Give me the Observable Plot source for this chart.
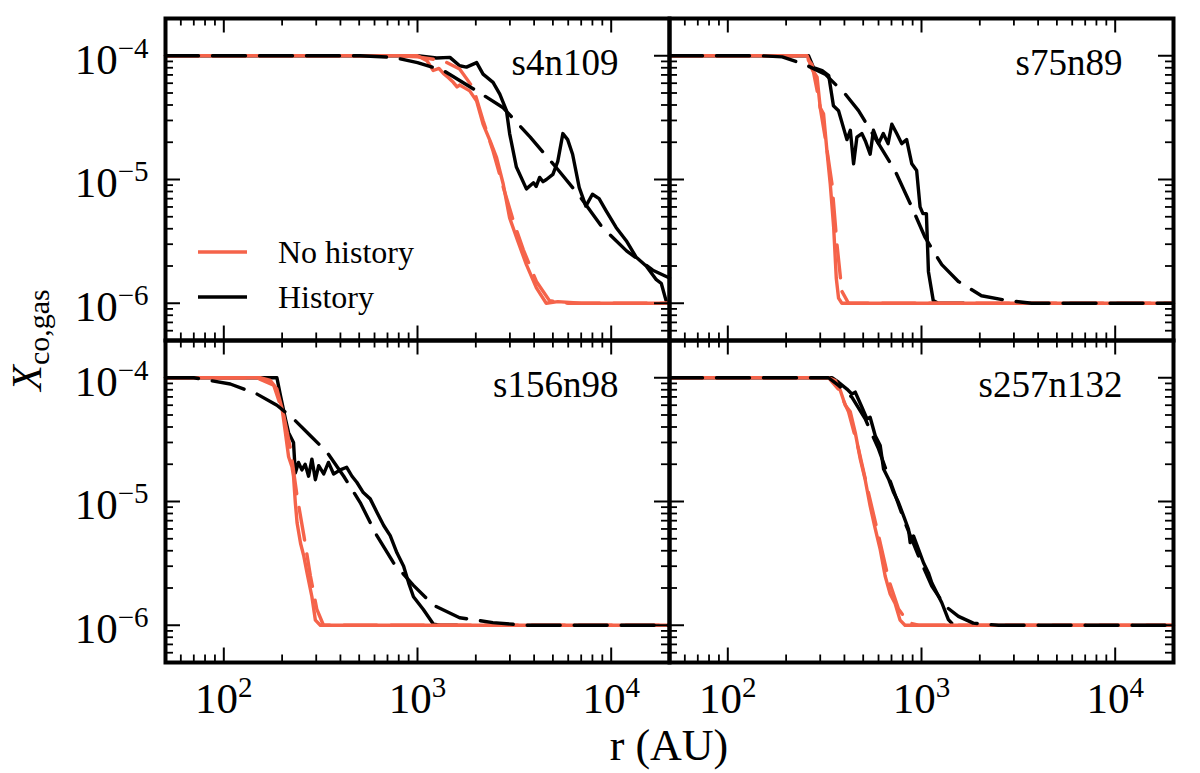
<!DOCTYPE html>
<html>
<head>
<meta charset="utf-8">
<script src="https://cdn.jsdelivr.net/npm/d3@7"></script>
<script src="https://cdn.jsdelivr.net/npm/@observablehq/plot@0.6"></script>
<style>
  body { margin: 0; background: white; }
  #chart svg { display: block; }
</style>
</head>
<body>
<div id="chart"></div>
<script>
// X_co,gas vs r for four cores; solid = simulation, dashed = model
const panels = ["s4n109", "s75n89", "s156n98", "s257n132"];
const kinds = ["history", "noHistory", "noHistoryModel", "historyModel"];
const legendLabels = ["No history", "History"];
const xMajor = [100, 1000, 10000];
const xMinor = [60, 70, 80, 90, 200, 300, 400, 500, 600, 700, 800, 900,
  2000, 3000, 4000, 5000, 6000, 7000, 8000, 9000];
const yMajor = [1e-6, 1e-5, 1e-4];
const yMinor = [6e-7, 7e-7, 8e-7, 9e-7, 2e-6, 3e-6, 4e-6, 5e-6, 6e-6, 7e-6, 8e-6, 9e-6,
  2e-5, 3e-5, 4e-5, 5e-5, 6e-5, 7e-5, 8e-5, 9e-5];

// s4n109  [r (AU), X]
const s4n109_noHistory = [[50,1e-4],[1000,1e-4],[1120,9.1e-5],[1206,7.6e-5],[1290,7.9e-5],[1360,7.2e-5],[1450,6.6e-5],[1530,6.1e-5],[1600,5.6e-5],[1650,5.8e-5],[1750,5.5e-5],[1860,5.2e-5],[2020,4.3e-5],[2180,2.8e-5],[2370,2.05e-5],[2560,1.5e-5],[2770,9.2e-6],[2990,4.9e-6],[3290,3.2e-6],[3650,2.05e-6],[4110,1.33e-6],[4620,1e-6],[5300,1.03e-6],[7000,1e-6],[20000,1e-6]];
const s4n109_noHistoryModel = [[50,1e-4],[750,1e-4],[1000,9.8e-5],[1360,9.1e-5],[1650,7.8e-5],[1940,5.5e-5],[2180,3.0e-5],[2455,1.7e-5],[2770,8.7e-6],[3130,4.6e-6],[3520,2.7e-6],[4110,1.5e-6],[4800,1.05e-6],[6000,1e-6],[20000,1e-6]];
const s4n109_history = [[50,1e-4],[1000,1e-4],[1255,9.6e-5],[1470,9.7e-5],[1650,8.3e-5],[1790,8.1e-5],[2020,8.8e-5],[2180,7.1e-5],[2455,6.1e-5],[2660,4.9e-5],[2880,3.6e-5],[2990,2.35e-5],[3240,1.26e-5],[3650,8.4e-6],[3970,9.4e-6],[4100,8.8e-6],[4270,1.04e-5],[4450,9.6e-6],[4630,1.0e-5],[5000,1.1e-5],[5300,1.4e-5],[5630,2.35e-5],[5960,2.1e-5],[6320,1.6e-5],[6840,8.6e-6],[7400,6.1e-6],[8000,7.6e-6],[8660,7e-6],[9400,5.6e-6],[10600,4.1e-6],[11960,3.2e-6],[13470,2.35e-6],[15160,2e-6],[17100,1.55e-6],[18130,1.45e-6],[19200,1.05e-6]];
const s4n109_historyModel = [[50,1e-4],[505,1e-4],[750,9.7e-5],[1000,8.8e-5],[1360,7.6e-5],[2020,5.2e-5],[2770,3.8e-5],[3820,2.2e-5],[5200,1.25e-5],[6840,7.4e-6],[9000,4.1e-6],[12000,2.65e-6],[16400,1.85e-6],[20000,1.6e-6]];

// s75n89
const s75n89_noHistory = [[50,1e-4],[257,1e-4],[272,7.8e-5],[289,6.7e-5],[300,3.8e-5],[312,3.4e-5],[325,1.7e-5],[338,9.2e-6],[352,4.1e-6],[363,1.6e-6],[373,1.1e-6],[388,1e-6],[20000,1e-6]];
const s75n89_noHistoryModel = [[50,1e-4],[250,1e-4],[272,8.5e-5],[294,4.6e-5],[318,2.2e-5],[345,9.2e-6],[366,3e-6],[388,1.25e-6],[420,1e-6],[20000,1e-6]];
const s75n89_history = [[50,1e-4],[261,1e-4],[277,8e-5],[307,7.6e-5],[332,6.9e-5],[351,3.95e-5],[373,3.6e-5],[396,2.6e-5],[412,2.1e-5],[429,2.5e-5],[446,1.34e-5],[464,2.2e-5],[492,2.35e-5],[513,2.05e-5],[543,1.6e-5],[565,2.5e-5],[600,1.95e-5],[635,2.35e-5],[672,1.95e-5],[703,2.8e-5],[745,2.35e-5],[790,1.95e-5],[838,2.1e-5],[891,1.34e-5],[944,1.18e-5],[983,6e-6],[1017,5.3e-6],[1060,5.3e-6],[1086,1.8e-6],[1150,1.05e-6],[1220,1e-6],[1650,1e-6]];
const s75n89_historyModel = [[50,1e-4],[150,1e-4],[191,9.8e-5],[250,8.5e-5],[318,7.1e-5],[404,4.9e-5],[473,3.6e-5],[600,1.95e-5],[730,1.18e-5],[891,6e-6],[1044,3.4e-6],[1273,2.05e-6],[1550,1.5e-6],[2040,1.15e-6],[2800,1.05e-6],[3700,1e-6],[20000,1e-6]];

// s156n98
const s156n98_noHistory = [[50,1e-4],[154,1e-4],[174,9.5e-5],[188,8.1e-5],[200,5.6e-5],[208,3.6e-5],[216,2.3e-5],[225,1.9e-5],[229,1.6e-5],[234,9.8e-6],[239,6.7e-6],[249,4.6e-6],[259,3.6e-6],[269,2.65e-6],[285,1.7e-6],[297,1.1e-6],[315,1e-6],[20000,1e-6]];
const s156n98_noHistoryModel = [[50,1e-4],[148,1e-4],[181,8.7e-5],[204,4.95e-5],[221,2.65e-5],[239,1.1e-5],[259,5.3e-6],[280,2.5e-6],[302,1.35e-6],[327,1e-6],[20000,1e-6]];
const s156n98_history = [[50,1e-4],[188,1e-4],[196,7.2e-5],[208,4.65e-5],[216,3.6e-5],[229,3e-5],[234,1.7e-5],[243,2.07e-5],[253,1.8e-5],[263,2e-5],[274,1.6e-5],[285,2.2e-5],[297,1.5e-5],[309,1.95e-5],[328,1.67e-5],[347,2.07e-5],[369,1.67e-5],[399,1.8e-5],[431,1.89e-5],[459,1.6e-5],[486,1.43e-5],[525,1.18e-5],[570,1.05e-5],[617,8.2e-6],[669,6.4e-6],[723,5.3e-6],[783,3.85e-6],[848,3e-6],[900,2.2e-6],[953,1.7e-6],[1072,1.34e-6],[1209,1.02e-6],[1310,1e-6],[1600,1e-6]];
const s156n98_historyModel = [[50,1e-4],[70,1e-4],[85,9.5e-5],[108,8.9e-5],[148,7.4e-5],[188,6e-5],[229,4.65e-5],[280,3.4e-5],[341,2.5e-5],[416,1.6e-5],[506,9.8e-6],[617,5.3e-6],[751,3.2e-6],[953,2.1e-6],[1209,1.45e-6],[1650,1.15e-6],[2450,1.05e-6],[3600,1e-6],[20000,1e-6]];

// s257n132
const s257n132_noHistory = [[50,1e-4],[331,1e-4],[359,9.5e-5],[381,7.9e-5],[404,6e-5],[429,5.3e-5],[455,3.6e-5],[483,2.2e-5],[512,1.5e-5],[543,9.2e-6],[576,6.1e-6],[612,4.1e-6],[649,2.5e-6],[688,1.8e-6],[731,1.5e-6],[775,1.1e-6],[822,1e-6],[20000,1e-6]];
const s257n132_noHistoryModel = [[50,1e-4],[331,1e-4],[372,8.1e-5],[420,5.3e-5],[473,2.65e-5],[532,1.18e-5],[600,5.3e-6],[676,2.35e-6],[761,1.35e-6],[855,1.05e-6],[965,1e-6],[20000,1e-6]];
const s257n132_history = [[50,1e-4],[345,1e-4],[373,9.2e-5],[412,8.1e-5],[437,7.4e-5],[455,7.65e-5],[492,5.8e-5],[523,4.65e-5],[543,4.8e-5],[577,3.4e-5],[612,2.83e-5],[637,1.83e-5],[676,1.52e-5],[718,1.18e-5],[761,9.8e-6],[808,7.65e-6],[857,5.97e-6],[874,4.65e-6],[909,5.27e-6],[965,4.1e-6],[1024,3.2e-6],[1086,2.65e-6],[1130,2.2e-6],[1199,1.83e-6],[1273,1.52e-6],[1377,1.11e-6],[1432,1.04e-6]];
const s257n132_historyModel = [[50,1e-4],[331,1e-4],[373,8.67e-5],[437,6.97e-5],[512,4.65e-5],[600,2.66e-5],[703,1.34e-5],[822,6.76e-6],[965,3.63e-6],[1130,2.07e-6],[1325,1.43e-6],[1552,1.18e-6],[1850,1.04e-6],[2500,1e-6],[20000,1e-6]];

const curves = [
  [s4n109_history, s4n109_noHistory, s4n109_noHistoryModel, s4n109_historyModel],
  [s75n89_history, s75n89_noHistory, s75n89_noHistoryModel, s75n89_historyModel],
  [s156n98_history, s156n98_noHistory, s156n98_noHistoryModel, s156n98_historyModel],
  [s257n132_history, s257n132_noHistory, s257n132_noHistoryModel, s257n132_historyModel]
];

const rows = [];
panels.forEach((p, i) => curves[i].forEach((pts, k) => pts.forEach(([r, x]) =>
  rows.push({panel: p, col: i % 2, row: Math.floor(i / 2), kind: kinds[k], r, x}))));

const RED = "#f5634a";
const BLACK = "#000";
const FONT = "Liberation Serif";
const width = 1200, height = 773;
const mL = 165, mR = 27, mT = 17, mB = 111;
const facetW = (width - mL - mR) / 2;
const facetH = (height - mT - mB) / 2;
const major = 15, minor = 8;

function curve(kind, color, dash) {
  return Plot.line(rows.filter((d) => d.kind === kind), {
    x: "r", y: "x", fx: "col", fy: "row",
    stroke: color, strokeWidth: 3.4, strokeDasharray: dash, curve: "linear"
  });
}

const expFormat = (d) => String(Math.round(Math.log10(d))).replace("-", "\u2212");

let chart = Plot.plot({
  width, height,
  marginLeft: mL, marginRight: mR, marginTop: mT, marginBottom: mB,
  style: {fontFamily: FONT, background: "white", overflow: "visible"},
  x: {type: "log", domain: [50, 20000]},
  y: {type: "log", domain: [5e-7, 2e-4]},
  fx: {domain: [0, 1], padding: 0, axis: null},
  fy: {domain: [0, 1], padding: 0, axis: null},
  marks: [
    curve("history", BLACK, null),
    curve("noHistory", RED, null),
    curve("noHistoryModel", RED, "33,14"),
    curve("historyModel", BLACK, "33,14"),
    // inward ticks on all four sides
    Plot.ruleX(xMajor, {x: (d) => d, insetBottom: facetH - major, strokeWidth: 2}),
    Plot.ruleX(xMajor, {x: (d) => d, insetTop: facetH - major, strokeWidth: 2}),
    Plot.ruleX(xMinor, {x: (d) => d, insetBottom: facetH - minor, strokeWidth: 1.8}),
    Plot.ruleX(xMinor, {x: (d) => d, insetTop: facetH - minor, strokeWidth: 1.8}),
    Plot.ruleY(yMajor, {y: (d) => d, insetRight: facetW - major, strokeWidth: 2}),
    Plot.ruleY(yMajor, {y: (d) => d, insetLeft: facetW - major, strokeWidth: 2}),
    Plot.ruleY(yMinor, {y: (d) => d, insetRight: facetW - minor, strokeWidth: 1.8}),
    Plot.ruleY(yMinor, {y: (d) => d, insetLeft: facetW - minor, strokeWidth: 1.8}),
    Plot.frame({stroke: "black", strokeWidth: 4}),
    Plot.text(panels, {
      fx: (d, i) => i % 2, fy: (d, i) => Math.floor(i / 2), text: (d) => d,
      frameAnchor: "top-right", textAnchor: "end", lineAnchor: "top",
      dx: -51, dy: 30, fontSize: 37, fill: "black"
    }),
    Plot.axisX({ticks: xMajor, tickSize: 0, tickPadding: 20, fontSize: 43,
      tickFormat: expFormat, facetAnchor: "bottom", label: null}),
    Plot.axisY({ticks: yMajor, tickSize: 0, tickPadding: 17, fontSize: 43, dy: 4,
      tickFormat: expFormat, facetAnchor: "left", label: null})
  ]
});

const svg = d3.select(chart);

// turn exponent labels into 10^n
svg.selectAll('g[aria-label="x-axis tick label"] text, g[aria-label="y-axis tick label"] text')
  .each(function () {
    const exp = this.textContent;
    const t = d3.select(this).text(null).attr("font-family", FONT);
    t.append("tspan").text("10");
    t.append("tspan").attr("dy", -16).attr("font-size", 29).text(exp);
  });

// legend in the first panel
const legend = svg.append("g").attr("font-family", FONT).attr("font-size", 32)
  .attr("text-anchor", "start");
[RED, BLACK].forEach((c, i) => {
  legend.append("line").attr("x1", 198).attr("x2", 247)
    .attr("y1", 252 + 45 * i).attr("y2", 252 + 45 * i)
    .attr("stroke", c).attr("stroke-width", 3.6);
  legend.append("text").attr("x", 278).attr("y", 263 + 45 * i).text(legendLabels[i]);
});

// axis titles
svg.append("text").attr("x", mL + facetW).attr("y", 760)
  .attr("text-anchor", "middle").attr("font-family", FONT).attr("font-size", 44)
  .text("r (AU)");
const yl = svg.append("text").attr("transform", "translate(41,340) rotate(-90)")
  .attr("text-anchor", "middle").attr("font-family", FONT).attr("font-size", 42);
yl.append("tspan").attr("font-style", "italic").text("X");
yl.append("tspan").attr("font-size", 30).attr("dy", 8).text("co,gas");

d3.select("#chart").append(() => chart);
</script>
</body>
</html>
